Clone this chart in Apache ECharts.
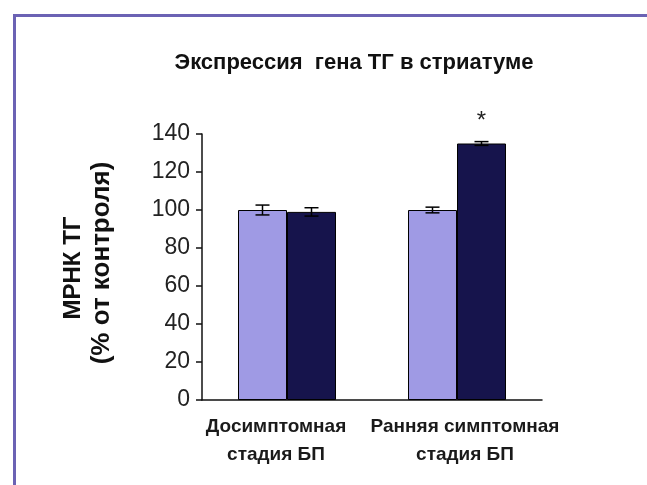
<!DOCTYPE html>
<html>
<head>
<meta charset="utf-8">
<script src="https://cdn.jsdelivr.net/npm/echarts@6/dist/echarts.min.js"></script>
<style>
  html, body { margin: 0; padding: 0; background: #fff; }
  #chart { width: 647px; height: 485px; }
</style>
</head>
<body>
<div id="chart"></div>
<script>
// Stage categories
const categories = ['Досимптомная\nстадия БП', 'Ранняя симптомная\nстадия БП'];
// mRNA level, % of control (light = control-like group, dark = model group)
const lightValues = [100, 100];
const darkValues = [99, 135];
// SEM for each bar
const lightErrors = [2.6, 1.5];
const darkErrors = [2.2, 1];
// Significance marks above the dark bars
const darkMarks = ['', '*'];
// Value axis ticks
const yTicks = [0, 20, 40, 60, 80, 100, 120, 140];

const BAR_W = 49;
const LIGHT = '#9f9ae4';
const DARK = '#16144c';
const FONT = '"Liberation Sans", Arial, sans-serif';

function errorSeries(values, errors, offset) {
  return {
    type: 'custom',
    z: 5,
    data: values.map((v, i) => [i, v, errors[i]]),
    renderItem: function (params, api) {
      const i = api.value(0), v = api.value(1), e = api.value(2);
      const hi = api.coord([i, v + e]);
      const lo = api.coord([i, v - e]);
      const x = hi[0] + offset;
      const cap = 7;
      const st = { stroke: '#000', lineWidth: 1.5 };
      return {
        type: 'group',
        children: [
          { type: 'line', shape: { x1: x, y1: hi[1], x2: x, y2: lo[1] }, style: st },
          { type: 'line', shape: { x1: x - cap, y1: hi[1], x2: x + cap, y2: hi[1] }, style: st },
          { type: 'line', shape: { x1: x - cap, y1: lo[1], x2: x + cap, y2: lo[1] }, style: st }
        ]
      };
    }
  };
}

const labelStyle = { fontFamily: FONT, fontSize: 19, fontWeight: 'bold', lineHeight: 28, color: '#1a1a1a' };

const chart = echarts.init(document.getElementById('chart'), null, { renderer: 'canvas' });
chart.setOption({
  animation: false,
  backgroundColor: '#ffffff',
  title: {
    text: 'Экспрессия  гена ТГ в стриатуме',
    left: 349,
    textAlign: 'center',
    top: 47,
    textStyle: { fontFamily: FONT, fontSize: 22, fontWeight: 'bold', color: '#111' }
  },
  graphic: [
    { type: 'line', shape: { x1: 13, y1: 15.5, x2: 647, y2: 15.5 }, style: { stroke: '#6b62b4', lineWidth: 3 } },
    { type: 'line', shape: { x1: 14.5, y1: 14, x2: 14.5, y2: 485 }, style: { stroke: '#6b62b4', lineWidth: 3 } },
    {
      type: 'text',
      style: { text: 'МРНК ТГ', x: 0, y: 0, align: 'center', verticalAlign: 'middle',
        font: 'bold 24px ' + FONT, fill: '#111' },
      x: 73, y: 268, rotation: Math.PI / 2
    },
    {
      type: 'text',
      style: { text: '(% от контроля)', x: 0, y: 0, align: 'center', verticalAlign: 'middle',
        font: 'bold 26px ' + FONT, fill: '#111' },
      x: 102, y: 263, rotation: Math.PI / 2
    }
  ],
  grid: { left: 202, right: 105, top: 134, bottom: 85 },
  xAxis: {
    type: 'category',
    data: categories,
    axisLine: { lineStyle: { color: '#111', width: 1.5 } },
    axisTick: { show: false },
    axisLabel: {
      interval: 0,
      hideOverlap: false,
      margin: 13,
      formatter: (v, i) => v.split('\n').map(s => (i === 0 ? '{a|' : '{b|') + s + '}').join('\n'),
      rich: {
        a: Object.assign({ padding: [0, 22, 0, 0] }, labelStyle),
        b: Object.assign({ padding: [0, 0, 0, 16] }, labelStyle)
      },
      ...labelStyle
    }
  },
  yAxis: {
    type: 'value',
    min: 0, max: yTicks[yTicks.length - 1], interval: 20,
    splitLine: { show: false },
    axisLine: { show: true, lineStyle: { color: '#111', width: 1.5 } },
    axisTick: { show: true, length: 6, lineStyle: { color: '#111', width: 1.5 } },
    axisLabel: { margin: 12, fontFamily: FONT, fontSize: 23, color: '#222' }
  },
  series: [
    {
      type: 'bar', data: lightValues, barWidth: BAR_W, barGap: '0%',
      itemStyle: { color: LIGHT, borderColor: '#000', borderWidth: 1 }
    },
    {
      type: 'bar', data: darkValues, barWidth: BAR_W, barGap: '0%',
      itemStyle: { color: DARK, borderColor: '#000', borderWidth: 1 },
      label: {
        show: true, position: 'top', distance: 10,
        formatter: p => darkMarks[p.dataIndex],
        fontFamily: FONT, fontSize: 24, color: '#222'
      }
    },
    errorSeries(lightValues, lightErrors, -BAR_W / 2),
    errorSeries(darkValues, darkErrors, BAR_W / 2)
  ]
});
</script>
</body>
</html>
